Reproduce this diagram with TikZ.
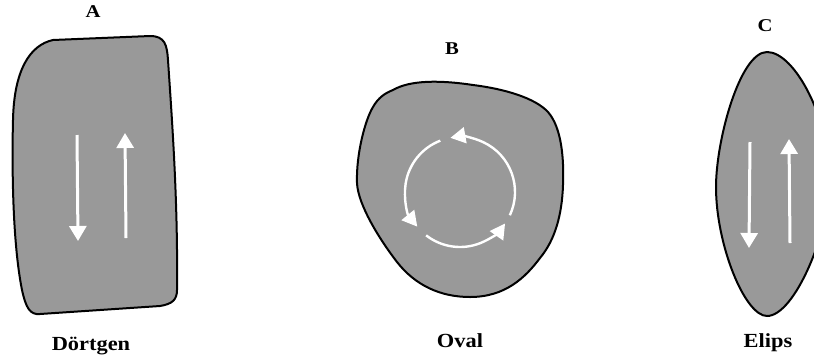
\documentclass[tikz,border=0pt]{standalone}
\usepackage{fontspec}
\usepackage{graphicx}
\setmainfont{Liberation Serif}
\usetikzlibrary{arrows.meta}
\newcommand{\widetxt}[2]{\scalebox{#1}[1]{#2}}
\begin{document}
\begin{tikzpicture}[x=1pt,y=-1pt,
  grain/.style={draw=black,line width=2pt,fill={rgb,255:red,153;green,153;blue,153},line join=round},
  flow/.style={draw=white,line width=3pt,-{Triangle[length=15pt,width=17pt]}},
  swirl/.style={draw=white,line width=2.4pt,-{Triangle[length=15pt,width=16pt]}},
  toplab/.style={font=\bfseries\fontsize{18}{21}\selectfont,inner sep=0pt},
  botlab/.style={font=\bfseries\fontsize{20}{24}\selectfont,inner sep=0pt,anchor=base}]
\useasboundingbox (0,0) rectangle (814,360);
% Shape A
\path[grain] (53,40) -- (150,36) .. controls (165,36) and (167,45) .. (168,60)
  .. controls (172,120) and (178,200) .. (177,290)
  .. controls (177,300) and (172,304) .. (160,306) -- (40,314)
  .. controls (30,315) and (26,308) .. (22,290)
  .. controls (12,240) and (12,160) .. (13,120)
  .. controls (14,70) and (30,45) .. (53,40) -- cycle;
\coordinate (a1s) at (77,135); \coordinate (a1e) at (78,241);
\coordinate (a2s) at (126,238); \coordinate (a2e) at (125,133);
\draw[flow] (a1s) -- (a1e);
\draw[flow] (a2s) -- (a2e);
\node[toplab] (la) at (93,12) {\widetxt{1.15}{A}};
\node[botlab] (lda) at (91,350) {\widetxt{1.12}{Dörtgen}};
% Shape B
\path[grain] (393,90) .. controls (410,80) and (440,80) .. (473,85)
  .. controls (505,89) and (535,98) .. (548,112)
  .. controls (562,128) and (564,160) .. (563,185)
  .. controls (562,215) and (555,240) .. (540,258)
  .. controls (525,278) and (505,297) .. (470,297)
  .. controls (440,297) and (415,285) .. (397,262)
  .. controls (380,240) and (358,205) .. (357,183)
  .. controls (356,155) and (365,120) .. (373,107)
  .. controls (378,98) and (385,93) .. (393,90) -- cycle;
\coordinate (bc) at (460,192);
\draw[swirl] (bc) ++(-335:55) arc[start angle=-335,end angle=-460,radius=55];
\draw[swirl] (bc) ++(-111:55) arc[start angle=-111,end angle=-219,radius=55];
\draw[swirl] (bc) ++(-232:55) arc[start angle=-232,end angle=-325,radius=55];
\node[toplab] (lb) at (452,49) {\widetxt{1.15}{B}};
\node[botlab] (ldb) at (460,347) {\widetxt{1.12}{Oval}};
% Shape C
\path[grain] (767,52) .. controls (740,52) and (716,140) .. (716,187)
  .. controls (716,245) and (745,316) .. (767,316)
  .. controls (795,316) and (830,230) .. (830,180)
  .. controls (830,120) and (795,52) .. (767,52) -- cycle;
\coordinate (c1s) at (750,142); \coordinate (c1e) at (749,248);
\coordinate (c2s) at (790,243); \coordinate (c2e) at (789,139);
\draw[flow] (c1s) -- (c1e);
\draw[flow] (c2s) -- (c2e);
\node[toplab] (lc) at (765,26) {\widetxt{1.15}{C}};
\node[botlab] (ldc) at (768,347) {\widetxt{1.12}{Elips}};
\end{tikzpicture}
\end{document}
